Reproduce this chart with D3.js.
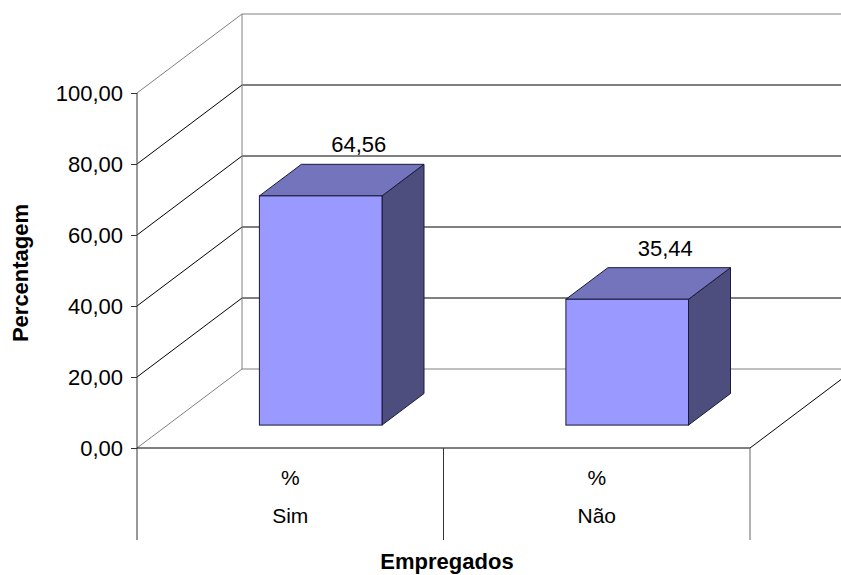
<!DOCTYPE html>
<html>
<head>
<meta charset="utf-8">
<script src="https://cdn.jsdelivr.net/npm/d3@7"></script>
<style>
  html, body { margin: 0; padding: 0; background: #fff; }
  svg { display: block; font-family: "Liberation Sans", Arial, sans-serif; }
</style>
</head>
<body>
<svg id="chart" width="841" height="575"></svg>
<script>
// Employment share (Empregados), in percent
const categories = ["Sim", "Não"];
const seriesName = "%";
const values = [64.56, 35.44];
const valueLabels = ["64,56", "35,44"];
const yTicks = [0, 20, 40, 60, 80, 100];
const yTickLabels = ["0,00", "20,00", "40,00", "60,00", "80,00", "100,00"];
const yTitle = "Percentagem";
const xTitle = "Empregados";

const W = 841, H = 575;
const svg = d3.select("#chart");

// Front plane of the 3D box and the depth projection
const plotLeft = 137, plotRight = 750;
const y = d3.scaleLinear().domain([0, 100]).range([448, 93]);
const depthX = 105, depthY = -79;          // vector from front plane to back wall
const barFront = 0.29, barDepth = 0.40;      // bar position inside the depth

const x = d3.scaleBand().domain(categories).range([plotLeft, plotRight])
  .paddingInner(0.6).paddingOuter(0.3);
const xCat = d3.scaleBand().domain(categories).range([plotLeft, plotRight]);

const wallGray = "#808080";
svg.append("clipPath").attr("id", "clip")
  .append("rect").attr("x", 0).attr("y", 0).attr("width", W).attr("height", H);

const g = svg.append("g").attr("clip-path", "url(#clip)");

const y0 = y(0), yTop = y(100);
const bx0 = plotLeft + depthX, bx1 = plotRight + depthX;

// Gridlines on the back wall and the side wall
yTicks.forEach((t, i) => {
  const isEdge = (i === 0 || i === yTicks.length - 1);
  const col = isEdge ? wallGray : "#000";
  // side wall diagonal
  g.append("line")
    .attr("x1", plotLeft).attr("y1", y(t))
    .attr("x2", bx0).attr("y2", y(t) + depthY)
    .attr("stroke", col).attr("stroke-width", 1);
  // back wall horizontal
  g.append("line")
    .attr("x1", bx0).attr("y1", y(t) + depthY)
    .attr("x2", bx1).attr("y2", y(t) + depthY)
    .attr("stroke", col).attr("stroke-width", 1);
});
// Back wall left edge
g.append("line")
  .attr("x1", bx0).attr("y1", yTop + depthY)
  .attr("x2", bx0).attr("y2", y0 + depthY)
  .attr("stroke", wallGray);

// Floor right edge
g.append("line")
  .attr("x1", plotRight).attr("y1", y0)
  .attr("x2", bx1).attr("y2", y0 + depthY)
  .attr("stroke", "#000");

// Bars as 3D boxes
const fx = barFront * depthX, fy = barFront * depthY;
const dx = barDepth * depthX, dy = barDepth * depthY;
const bars = g.selectAll("g.bar").data(categories.map((c, i) => ({ c, v: values[i], label: valueLabels[i] })))
  .enter().append("g").attr("class", "bar");

bars.each(function (d) {
  const sel = d3.select(this);
  const xl = x(d.c) + fx, xr = x(d.c) + x.bandwidth() + fx;
  const yt = y(d.v) + fy, yb = y(0) + fy;
  // side face
  sel.append("path")
    .attr("d", `M${xr},${yt}L${xr + dx},${yt + dy}L${xr + dx},${yb + dy}L${xr},${yb}Z`)
    .attr("fill", "#4d4d7e").attr("stroke", "#1a1a3a").attr("stroke-width", 1);
  // top face
  sel.append("path")
    .attr("d", `M${xl},${yt}L${xl + dx},${yt + dy}L${xr + dx},${yt + dy}L${xr},${yt}Z`)
    .attr("fill", "#7474bc").attr("stroke", "#1a1a3a").attr("stroke-width", 1);
  // front face
  sel.append("rect")
    .attr("x", xl).attr("y", yt).attr("width", xr - xl).attr("height", yb - yt)
    .attr("fill", "#9999ff").attr("stroke", "#1a1a3a").attr("stroke-width", 1);
  // value label
  sel.append("text")
    .attr("x", (xl + xr) / 2 + dx - 4)
    .attr("y", yt + dy - 12)
    .attr("text-anchor", "middle")
    .attr("font-size", 22).attr("fill", "#000")
    .text(d.label);
});

// Floor front edge (category axis)
svg.append("line")
  .attr("x1", plotLeft).attr("y1", y0).attr("x2", plotRight).attr("y2", y0)
  .attr("stroke", "#000");

// Value axis
const yAxis = svg.append("g").attr("transform", `translate(${plotLeft},0)`)
  .call(d3.axisLeft(y).tickValues(yTicks).tickSize(6).tickPadding(8)
    .tickFormat((d, i) => yTickLabels[i]));
yAxis.select(".domain").remove();
yAxis.selectAll(".tick line").attr("stroke", "#333");
yAxis.selectAll(".tick text").attr("font-size", 22).attr("fill", "#000")
  .attr("font-family", "Liberation Sans, Arial, sans-serif");

svg.append("line")
  .attr("x1", plotLeft).attr("y1", yTop).attr("x2", plotLeft).attr("y2", 540)
  .attr("stroke", "#333");

// Category table below the floor
const tableBottom = 540;
categories.forEach((c, i) => {
  const xr = xCat(c) + xCat.bandwidth();
  svg.append("line")
    .attr("x1", xr).attr("y1", y0).attr("x2", xr).attr("y2", tableBottom)
    .attr("stroke", i === categories.length - 1 ? "#666" : "#333");
  const cx = xCat(c) + xCat.bandwidth() / 2;
  svg.append("text").attr("x", cx).attr("y", 485)
    .attr("text-anchor", "middle").attr("font-size", 21).text(seriesName);
  svg.append("text").attr("x", cx).attr("y", 523)
    .attr("text-anchor", "middle").attr("font-size", 21).text(c);
});

// Axis titles
svg.append("text")
  .attr("transform", `translate(28,273) rotate(-90)`)
  .attr("text-anchor", "middle").attr("font-size", 22).attr("font-weight", "bold")
  .text(yTitle);
svg.append("text")
  .attr("x", 447).attr("y", 569)
  .attr("text-anchor", "middle").attr("font-size", 22).attr("font-weight", "bold")
  .text(xTitle);
</script>
</body>
</html>
